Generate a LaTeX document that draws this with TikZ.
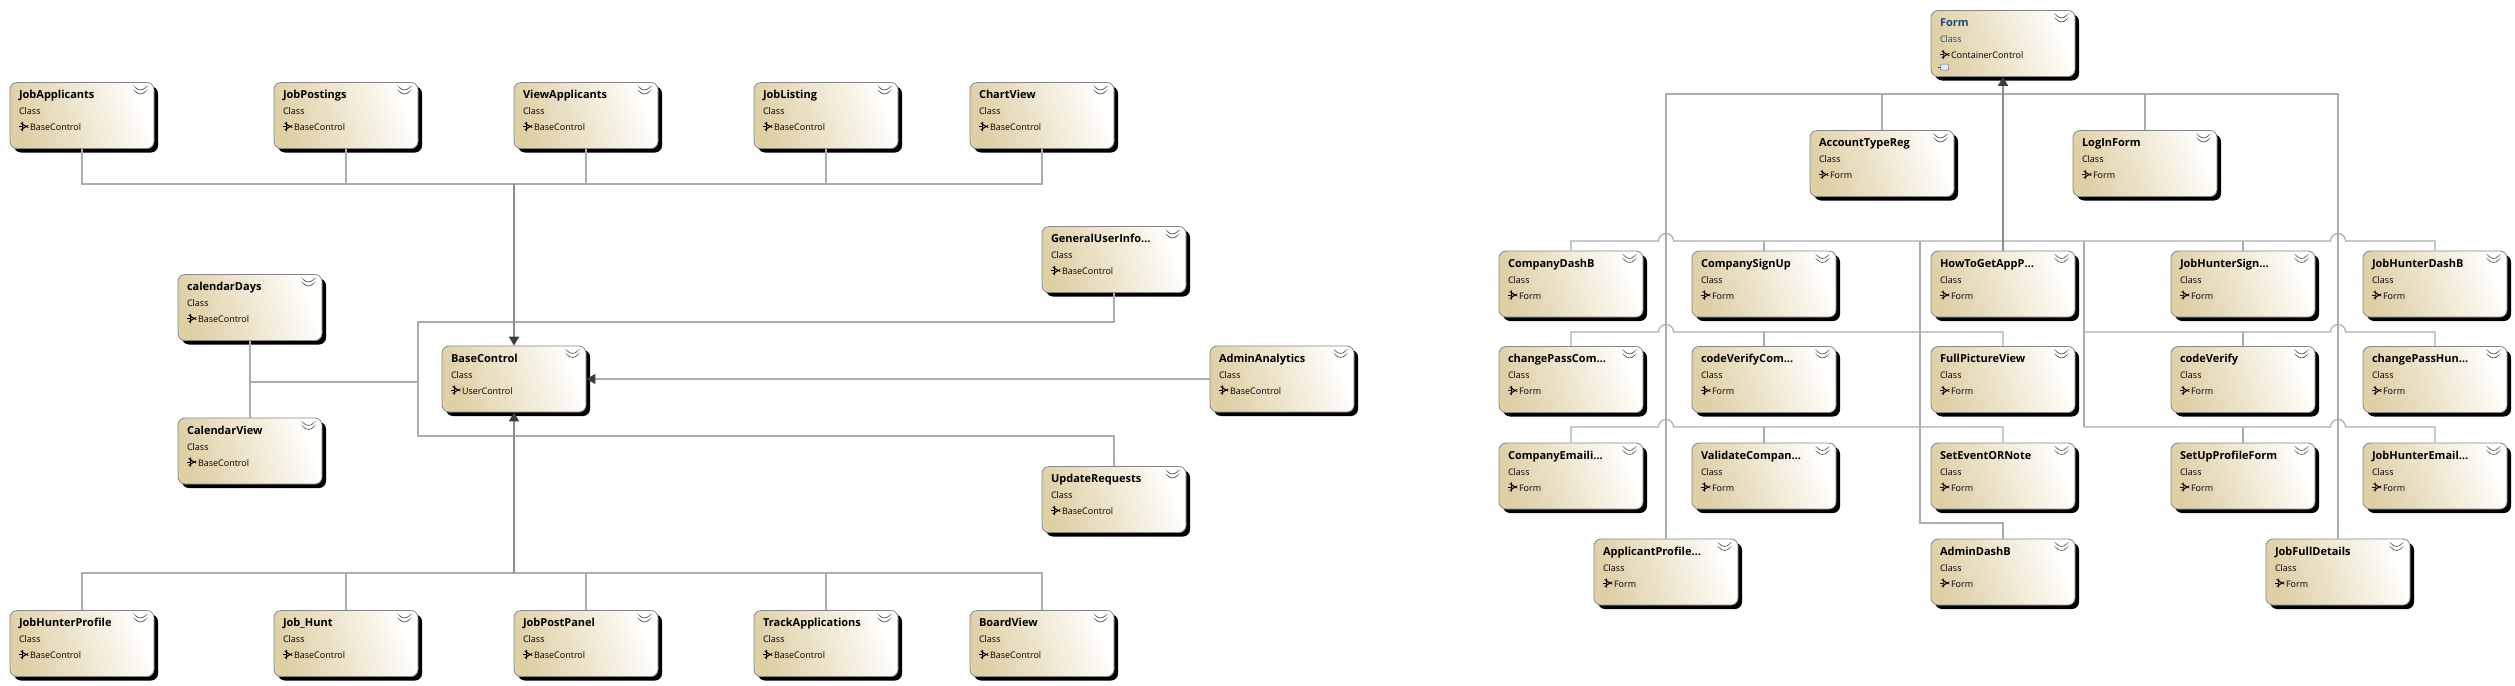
\documentclass[tikz,border=0pt]{standalone}
\usepackage{fontspec}
\setmainfont{Open Sans}
\usepackage{tikz}
\usetikzlibrary{arrows.meta, calc, shadows}
\definecolor{tanLeft}{RGB}{222,207,165}
\definecolor{tanRight}{RGB}{255,255,253}
\definecolor{boxBorder}{RGB}{135,135,135}
\definecolor{linkGray}{RGB}{172,172,172}
\definecolor{trunkGray}{RGB}{140,140,140}
\definecolor{tipGray}{RGB}{60,60,60}
\definecolor{chevGray}{RGB}{105,105,105}
\definecolor{formBlue}{RGB}{30,72,120}

\newcommand\ctitle[1]{{\fontsize{11}{16}\selectfont\bfseries #1}}
\newcommand\classtext[2]{\ctitle{#1}\\Class\\\hspace*{11pt}#2}

\tikzset{
    classbox/.style={rectangle, rounded corners=7pt, draw=boxBorder, line width=0.8pt,
        left color=tanLeft, right color=tanRight, shading angle=110,
        minimum width=144pt, minimum height=66pt, text width=126pt, inner xsep=9pt, inner ysep=0pt,
        text height=16pt, text depth=50pt, align=left, font=\fontsize{9}{16}\selectfont,
        drop shadow={shadow xshift=4pt, shadow yshift=-4pt, fill=black, opacity=1},
        path picture={
            \draw[chevGray, line width=0.8pt] ($(path picture bounding box.north east)+(-17.5pt,-6pt)$) -- ++(4pt,-4.5pt) -- ++(4pt,4.5pt);
            \draw[chevGray, line width=0.8pt] ($(path picture bounding box.north east)+(-17.5pt,-10pt)$) -- ++(4pt,-4.5pt) -- ++(4pt,4.5pt);
            \draw[black, line width=0.55pt] ($(path picture bounding box.north west)+(9pt,-44pt)$) -- ++(3.5pt,0pt);
            \draw[black, line width=0.55pt, fill=white] ($(path picture bounding box.north west)+(12.5pt,-41.5pt)$) -- ++(4pt,-2.5pt) -- ++(-4pt,-2.5pt) -- cycle;
        }},
    link/.style={linkGray, line width=1.2pt},
    trunk/.style={trunkGray, line width=1.8pt},
    inheritArrow/.style={-{Triangle[length=9pt, width=10pt, color=tipGray]}}
}

\begin{document}
\begin{tikzpicture}[x=1pt, y=-1pt]
    \useasboundingbox (0,0) rectangle (2515,685);
    \fill[white] (0,0) rectangle (2515,685);

    % BaseControl family
    \node[classbox] (baseControl) at (514,379) {\classtext{BaseControl}{UserControl}};
    \node[classbox] (jobApplicants) at (82,115.5) {\classtext{JobApplicants}{BaseControl}};
    \node[classbox] (jobPostings) at (346,115.5) {\classtext{JobPostings}{BaseControl}};
    \node[classbox] (viewApplicants) at (586,115.5) {\classtext{ViewApplicants}{BaseControl}};
    \node[classbox] (jobListing) at (826,115.5) {\classtext{JobListing}{BaseControl}};
    \node[classbox] (chartView) at (1042,115.5) {\classtext{ChartView}{BaseControl}};
    \node[classbox] (calendarDays) at (250,307.5) {\classtext{calendarDays}{BaseControl}};
    \node[classbox] (calendarView) at (250,451) {\classtext{CalendarView}{BaseControl}};
    \node[classbox] (generalUserInfo) at (1114,259.5) {\classtext{GeneralUserInfo…}{BaseControl}};
    \node[classbox] (adminAnalytics) at (1282,379) {\classtext{AdminAnalytics}{BaseControl}};
    \node[classbox] (updateRequests) at (1114,499.5) {\classtext{UpdateRequests}{BaseControl}};
    \node[classbox] (jobHunterProfile) at (82,643.5) {\classtext{JobHunterProfile}{BaseControl}};
    \node[classbox] (jobHunt) at (346,643.5) {\classtext{Job\_Hunt}{BaseControl}};
    \node[classbox] (jobPostPanel) at (586,643.5) {\classtext{JobPostPanel}{BaseControl}};
    \node[classbox] (trackApplications) at (826,643.5) {\classtext{TrackApplications}{BaseControl}};
    \node[classbox] (boardView) at (1042,643.5) {\classtext{BoardView}{BaseControl}};

    % Form family
    \node[classbox] (form) at (2003,43.5) {\ctitle{\textcolor{formBlue}{Form}}\\\textcolor{formBlue}{Class}\\\hspace*{11pt}ContainerControl};
    \draw[black!70, line width=0.5pt] ($(form.north west)+(7pt,-57pt)$) -- ++(3pt,0pt);
    \draw[black!55, fill=blue!10, line width=0.5pt, rounded corners=1pt] ($(form.north west)+(10pt,-54pt)$) rectangle ++(8pt,-6pt);
    \node[classbox] (accountTypeReg) at (1882,163.5) {\classtext{AccountTypeReg}{Form}};
    \node[classbox] (logInForm) at (2145,163.5) {\classtext{LogInForm}{Form}};
    \node[classbox] (companyDashB) at (1571,284) {\classtext{CompanyDashB}{Form}};
    \node[classbox] (companySignUp) at (1764,284) {\classtext{CompanySignUp}{Form}};
    \node[classbox] (howToGetAppP) at (2003,284) {\classtext{HowToGetAppP…}{Form}};
    \node[classbox] (jobHunterSign) at (2243,284) {\classtext{JobHunterSign…}{Form}};
    \node[classbox] (jobHunterDashB) at (2435,284) {\classtext{JobHunterDashB}{Form}};
    \node[classbox] (changePassCom) at (1571,379.5) {\classtext{changePassCom…}{Form}};
    \node[classbox] (codeVerifyCom) at (1764,379.5) {\classtext{codeVerifyCom…}{Form}};
    \node[classbox] (fullPictureView) at (2003,379.5) {\classtext{FullPictureView}{Form}};
    \node[classbox] (codeVerify) at (2243,379.5) {\classtext{codeVerify}{Form}};
    \node[classbox] (changePassHun) at (2435,379.5) {\classtext{changePassHun…}{Form}};
    \node[classbox] (companyEmaili) at (1571,476) {\classtext{CompanyEmaili…}{Form}};
    \node[classbox] (validateCompan) at (1764,476) {\classtext{ValidateCompan…}{Form}};
    \node[classbox] (setEventORNote) at (2003,476) {\classtext{SetEventORNote}{Form}};
    \node[classbox] (setUpProfileForm) at (2243,476) {\classtext{SetUpProfileForm}{Form}};
    \node[classbox] (jobHunterEmail) at (2435,476) {\classtext{JobHunterEmail…}{Form}};
    \node[classbox] (applicantProfile) at (1666,572) {\classtext{ApplicantProfile…}{Form}};
    \node[classbox] (adminDashB) at (2003,572) {\classtext{AdminDashB}{Form}};
    \node[classbox] (jobFullDetails) at (2338,572) {\classtext{JobFullDetails}{Form}};

    % Inheritance lines to BaseControl
    \coordinate (topBus) at (514,184);
    \coordinate (bottomBus) at (514,573);
    \coordinate (loopTop) at (418,322);
    \coordinate (loopBottom) at (418,436);
    \coordinate (calJoin) at (418,382);
    \foreach \n in {jobApplicants, jobPostings, viewApplicants, jobListing, chartView}
        \draw[link] (\n.south) |- (topBus);
    \foreach \n in {jobHunterProfile, jobHunt, jobPostPanel, trackApplications, boardView}
        \draw[link] (\n.north) |- (bottomBus);
    \draw[link] (generalUserInfo.south) |- (loopTop) -- (loopBottom) -| (updateRequests.north);
    \draw[link] (calendarDays.south) -- (calendarView.north);
    \draw[link] (calendarDays.south |- calJoin) -- (calJoin);
    \draw[trunk, inheritArrow] (topBus) -- (baseControl.north);
    \draw[trunk, inheritArrow] (bottomBus) -- (baseControl.south);
    \draw[link, inheritArrow] (adminAnalytics.west) -- (baseControl.east);

    % Inheritance lines to Form
    \coordinate (formBus) at (2003,94);
    \coordinate (rowOne) at (2003,241);
    \coordinate (rowTwo) at (2003,332);
    \coordinate (rowThree) at (2003,427);
    \coordinate (leftDrop) at (1920,241);
    \coordinate (rightDrop) at (2084,241);
    \coordinate (adminBend) at (1920,523);
    \draw[link] (applicantProfile.north) |- (formBus -| jobFullDetails.north) -- (jobFullDetails.north);
    \draw[link] (accountTypeReg.north) -- (accountTypeReg.north |- formBus);
    \draw[link] (logInForm.north) -- (logInForm.north |- formBus);
    \draw[link] (companyDashB.north) |- (1658.5,241) arc[start angle=180, end angle=0, radius=7.5pt]
        -- (2330.5,241) arc[start angle=180, end angle=0, radius=7.5pt] -| (jobHunterDashB.north);
    \foreach \n in {companySignUp, jobHunterSign}
        \draw[link] (\n.north) -- (\n.north |- rowOne);
    \draw[link] (leftDrop) -- (adminBend) -| (adminDashB.north);
    \draw[link] (rightDrop) -- (rightDrop |- rowThree);
    \draw[link] (changePassCom.north) |- (1658.5,332) arc[start angle=180, end angle=0, radius=7.5pt] -| (fullPictureView.north);
    \draw[link] (rightDrop |- rowTwo) -- (2330.5,332) arc[start angle=180, end angle=0, radius=7.5pt] -| (changePassHun.north);
    \draw[link] (companyEmaili.north) |- (1658.5,427) arc[start angle=180, end angle=0, radius=7.5pt] -| (setEventORNote.north);
    \draw[link] (rightDrop |- rowThree) -- (2330.5,427) arc[start angle=180, end angle=0, radius=7.5pt] -| (jobHunterEmail.north);
    \foreach \n in {codeVerifyCom, codeVerify}
        \draw[link] (\n.north) -- (\n.north |- rowTwo);
    \foreach \n in {validateCompan, setUpProfileForm}
        \draw[link] (\n.north) -- (\n.north |- rowThree);
    \draw[trunk, inheritArrow] (howToGetAppP.north) -- (form.south);
\end{tikzpicture}
\end{document}
